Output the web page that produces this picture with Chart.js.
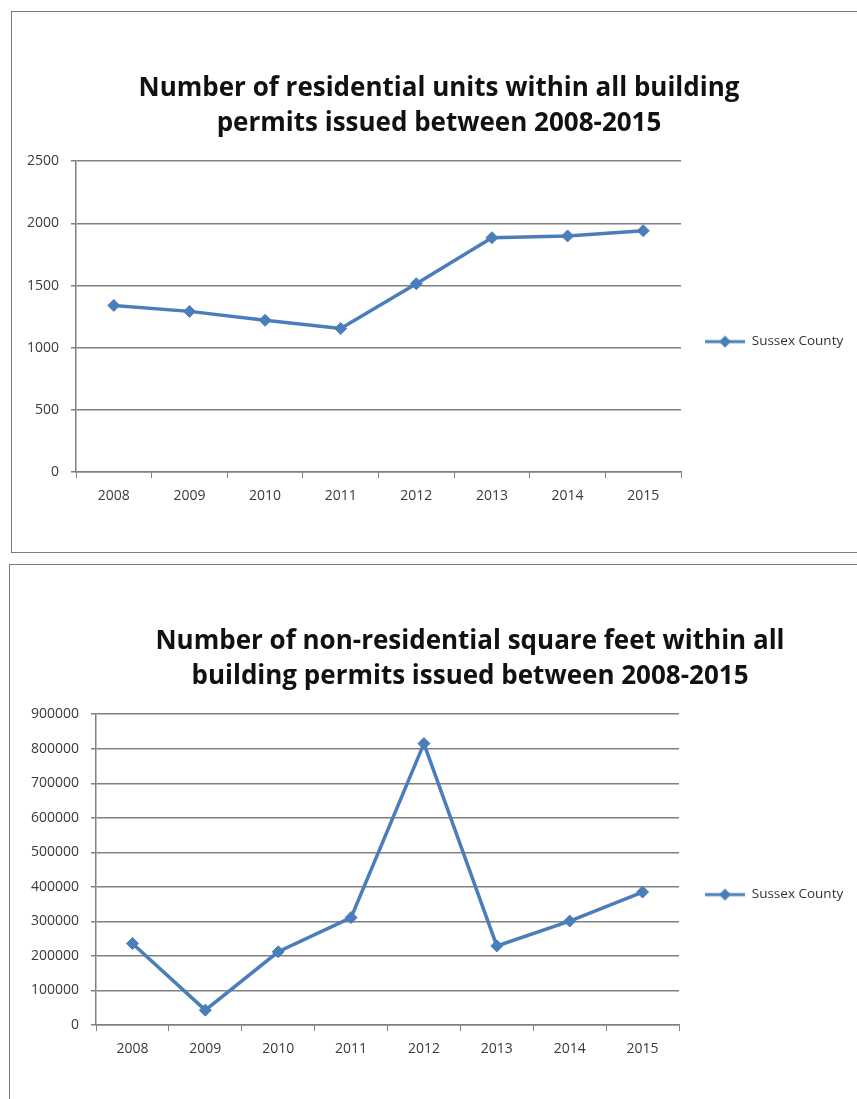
<!DOCTYPE html>
<html lang="en">
<head>
  <meta charset="UTF-8">
  <title>Building permits 2008-2015</title>
  <script src="https://cdn.jsdelivr.net/npm/chart.js"></script>
  <style>
    html, body { margin: 0; padding: 0; background: #fff; overflow: hidden; }
    .box { position: absolute; border: 1px solid #7a7a7a; background: #fff; }
    canvas { position: absolute; }
  </style>
</head>
<body>
  <div class="box" style="left:11px; top:11px; width:900px; height:540px;"></div>
  <canvas id="unitsChart" width="854" height="540" style="left:12px; top:12px;"></canvas>

  <div class="box" style="left:9px; top:564px; width:900px; height:600px;"></div>
  <canvas id="sqftChart" width="920" height="540" style="left:10px; top:565px;"></canvas>

  <script>
    // data
    const years = ["2008", "2009", "2010", "2011", "2012", "2013", "2014", "2015"];
    const seriesName = "Sussex County";
    const residentialUnits = [1340, 1292, 1220, 1154, 1514, 1885, 1899, 1941];
    const nonResidentialSqft = [236000, 43000, 212000, 311000, 815000, 229000, 301000, 385000];
    const unitsTicks = { max: 2500, step: 500 };
    const sqftTicks = { max: 900000, step: 100000 };

    const blue = "#4a7ebb";
    const gridGray = "#808080";
    const font = "'Open Sans', Lato, sans-serif";

    // small line + diamond used as legend symbol
    function legendSymbol() {
      const c = document.createElement("canvas");
      c.width = 40; c.height = 14;
      const g = c.getContext("2d");
      g.strokeStyle = blue; g.lineWidth = 3;
      g.beginPath(); g.moveTo(0, 7); g.lineTo(40, 7); g.stroke();
      g.fillStyle = blue;
      g.beginPath(); g.moveTo(20, 1); g.lineTo(26, 7); g.lineTo(20, 13); g.lineTo(14, 7); g.closePath(); g.fill();
      return c;
    }
    const symbol = legendSymbol();

    // lets each chart fix the legend width so the plot area ends where it should
    const legendWidth = {
      id: "legendWidth",
      beforeInit(chart, args, opts) {
        const fit = chart.legend.fit;
        chart.legend.fit = function () {
          fit.call(this);
          if (opts.width) this.width = opts.width;
        };
      }
    };

    function makeChart(id, title, values, ticks, yWidth, legendW, legendPad) {
      return new Chart(document.getElementById(id), {
        type: "line",
        data: {
          labels: years,
          datasets: [{
            label: seriesName,
            data: values,
            borderColor: blue,
            backgroundColor: blue,
            borderWidth: 3.5,
            tension: 0,
            pointStyle: "rectRot",
            pointRadius: 6,
            pointBorderWidth: 1,
            pointBackgroundColor: blue,
            pointBorderColor: blue
          }]
        },
        plugins: [legendWidth],
        options: {
          responsive: false,
          animation: false,
          devicePixelRatio: 1,
          layout: { padding: 0 },
          plugins: {
            legendWidth: { width: legendW },
            title: {
              display: true,
              text: title,
              color: "#111",
              font: { family: font, size: 26, weight: "bold", lineHeight: 1.35 },
              padding: { top: 59, bottom: 20 }
            },
            legend: {
              position: "right",
              fullSize: false,
              title: { display: true, text: " ", font: { size: 20 }, padding: { top: 13, bottom: 13 } },
              labels: {
                usePointStyle: true,
                pointStyle: symbol,
                pointStyleWidth: 40,
                padding: legendPad,
                color: "#333",
                font: { family: font, size: 13.5 }
              }
            },
            tooltip: { enabled: false }
          },
          scales: {
            x: {
              offset: true,
              grid: { offset: true, drawOnChartArea: false, drawTicks: true, tickLength: 6, color: gridGray },
              border: { color: gridGray, width: 1.5 },
              ticks: { color: "#3a3a3a", padding: 10, font: { family: font, size: 14 } },
              afterFit: s => { s.height = 80; }
            },
            y: {
              min: 0,
              max: ticks.max,
              grid: { color: gridGray, lineWidth: 1.5, tickLength: 5 },
              border: { color: gridGray, width: 1.5 },
              ticks: {
                stepSize: ticks.step,
                color: "#3a3a3a",
                padding: 12,
                font: { family: font, size: 14 },
                callback: v => String(v)
              },
              afterFit: s => { s.width = yWidth; }
            }
          }
        }
      });
    }

    makeChart("unitsChart",
      ["Number of residential units within all building", "permits issued between 2008-2015"],
      residentialUnits, unitsTicks, 64, 185, 24);

    makeChart("sqftChart",
      ["Number of non-residential square feet within all", "building permits issued between 2008-2015"],
      nonResidentialSqft, sqftTicks, 86, 251, 26);
  </script>
</body>
</html>
